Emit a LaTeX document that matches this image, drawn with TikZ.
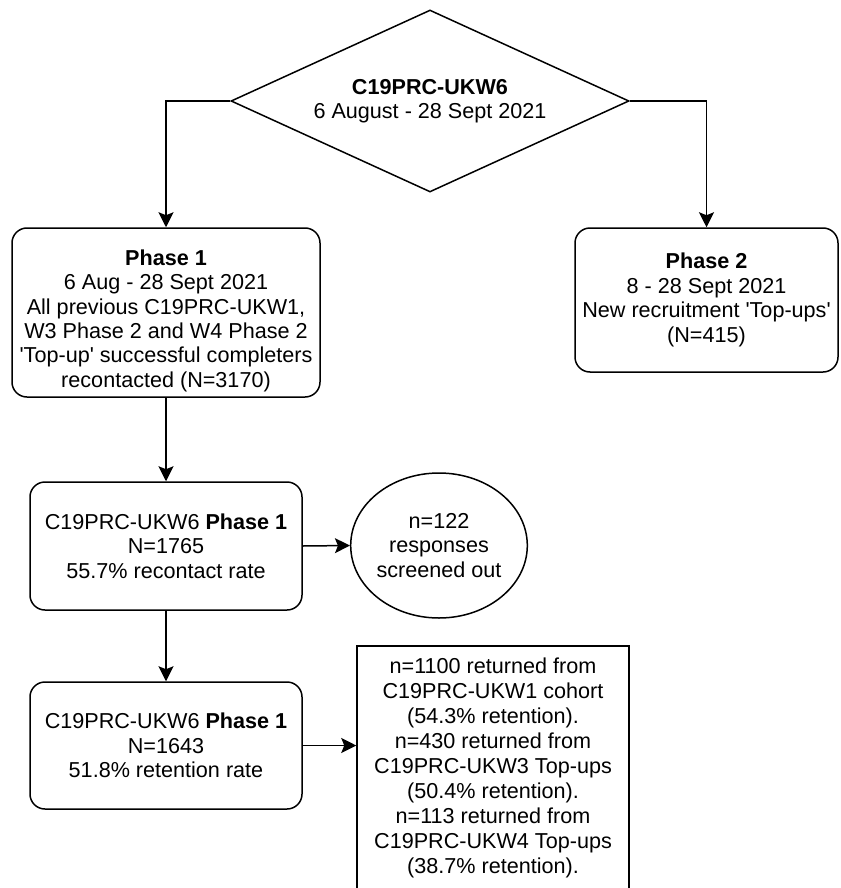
\documentclass[tikz,border=0pt]{standalone}
\usepackage{fontspec}
\setmainfont{Liberation Sans}[Ligatures=TeXOff]
\usetikzlibrary{shapes.geometric,arrows.meta}
\begin{document}
\begin{tikzpicture}[x=0.5pt,y=-0.5pt,
    every node/.style={font=\fontsize{10.8}{12.2}\selectfont, align=center},
    rbox/.style={draw, line width=0.75pt, rounded corners=7.5pt, inner sep=0pt},
    arr/.style={line width=0.75pt, -{Stealth[length=7.5pt,width=7.5pt,inset=1.5pt]}}]
		    \useasboundingbox (0,0) rectangle (840,888);
		    \clip (0,0) rectangle (840,888);
		    \node[draw, shape=diamond, line width=0.75pt, aspect=2.1, minimum width=199pt, minimum height=91pt, inner sep=0pt] (AA) at (430,101) {\textbf{C19PRC-UKW6}\\6 August - 28 Sept 2021};
		    \node[rbox, minimum width=154pt, minimum height=84.5pt] (AB) at (166,312.5) {\rule{0pt}{16pt}\textbf{Phase 1}\\6 Aug - 28 Sept 2021\\All previous C19PRC-UKW1,\\W3 Phase 2 and W4 Phase 2\\'Top-up' successful completers\\recontacted (N=3170)};
		    \node[rbox, minimum width=131.5pt, minimum height=72pt] (AC) at (706.5,300) {\textbf{Phase 2}\\8 - 28 Sept 2021\\New recruitment 'Top-ups'\\(N=415)};
		    \node[rbox, minimum width=136pt, minimum height=64pt] (AD) at (166,546) {C19PRC-UKW6 \textbf{Phase 1}\\N=1765\\55.7\% recontact rate};
		    \node[draw, shape=ellipse, line width=0.75pt, minimum width=81pt, minimum height=72.5pt, inner sep=0pt] (AE) at (439,545.5) {n=122\\responses\\screened out};
		    \node[rbox, minimum width=136pt, minimum height=63.5pt] (AF) at (166,745.5) {C19PRC-UKW6 \textbf{Phase 1}\\N=1643\\51.8\% retention rate};
		    \node[draw, line width=0.75pt, minimum width=136pt, minimum height=122pt, inner sep=0pt, font=\fontsize{10.8}{12.5}\selectfont] (AG) at (493,768) {n=1100 returned from\\C19PRC-UKW1 cohort\\(54.3\% retention).\\n=430 returned from\\C19PRC-UKW3 Top-ups\\(50.4\% retention).\\n=113 returned from\\C19PRC-UKW4 Top-ups\\(38.7\% retention).};

		    \draw[arr] (AA.west) -| (AB.north);
		    \draw[arr] (AA.east) -| (AC.north);
		    \draw[arr] (AB)--(AD);
		    \draw[arr] (AD.east)--(AE.west);
		    \draw[arr] (AD)--(AF);
		    \draw[arr] (AF.east)--(AF.east -| AG.west);
\end{tikzpicture}
\end{document}
